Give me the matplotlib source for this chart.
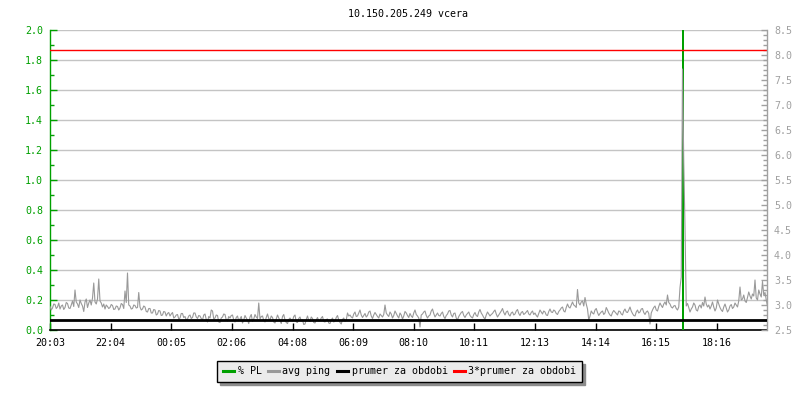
import matplotlib
matplotlib.use('Agg')
import matplotlib.pyplot as plt
from matplotlib.ticker import MultipleLocator, FormatStrFormatter
from matplotlib.lines import Line2D

title = "10.150.205.249 vcera"
step_min = 2.5  # minutes between samples
start_label = "20:03"
span_min = 1434

# avg ping (right axis), one value every 2.5 minutes from 20:03 (one row = 1 hour)
ping = [
    2.97, 2.90, 2.94, 3.02, 3.01, 2.93, 2.96, 3.04, 2.92, 2.98, 3.00, 2.91, 2.95, 3.05, 3.03, 2.94, 2.93, 3.00, 3.08, 2.97, 3.30, 3.06, 3.02, 2.95,
    3.10, 3.03, 2.98, 2.87, 3.06, 3.12, 2.95, 3.04, 3.10, 3.00, 3.14, 3.44, 3.06, 3.02, 3.12, 3.52, 3.08, 3.04, 2.96, 3.02, 2.92, 3.00, 2.97, 2.93,
    2.95, 3.01, 2.99, 2.91, 2.92, 2.98, 2.97, 2.90, 2.94, 3.03, 3.01, 2.93, 3.28, 3.05, 3.64, 3.00, 2.98, 2.92, 2.93, 3.00, 2.99, 2.94, 2.95, 3.25,
    2.96, 2.90, 2.92, 2.98, 2.96, 2.87, 2.86, 2.93, 2.93, 2.84, 2.84, 2.91, 2.90, 2.80, 2.82, 2.89, 2.88, 2.79, 2.80, 2.87, 2.86, 2.78, 2.83, 2.85,
    2.78, 2.82, 2.85, 2.74, 2.76, 2.80, 2.81, 2.72, 2.74, 2.83, 2.83, 2.75, 2.77, 2.70, 2.72, 2.78, 2.80, 2.73, 2.75, 2.84, 2.84, 2.76, 2.73, 2.79,
    2.78, 2.73, 2.70, 2.80, 2.82, 2.71, 2.66, 2.77, 2.74, 2.90, 2.88, 2.72, 2.74, 2.80, 2.79, 2.66, 2.65, 2.74, 2.76, 2.82, 2.81, 2.70, 2.68, 2.77,
    2.74, 2.79, 2.80, 2.70, 2.66, 2.75, 2.78, 2.68, 2.72, 2.77, 2.64, 2.70, 2.79, 2.74, 2.70, 2.63, 2.76, 2.81, 2.67, 2.72, 2.81, 2.76, 2.73, 3.04,
    2.72, 2.77, 2.78, 2.69, 2.66, 2.75, 2.82, 2.73, 2.70, 2.78, 2.75, 2.66, 2.64, 2.72, 2.80, 2.74, 2.69, 2.63, 2.77, 2.81, 2.70, 2.65, 2.63, 2.71,
    2.74, 2.70, 2.68, 2.77, 2.80, 2.66, 2.65, 2.73, 2.76, 2.68, 2.70, 2.61, 2.62, 2.71, 2.78, 2.69, 2.67, 2.76, 2.73, 2.65, 2.64, 2.70, 2.75, 2.68,
    2.69, 2.74, 2.77, 2.67, 2.66, 2.71, 2.72, 2.64, 2.63, 2.70, 2.74, 2.66, 2.68, 2.75, 2.79, 2.70, 2.65, 2.62, 2.71, 2.74, 2.67, 2.70, 2.84, 2.78,
    2.80, 2.76, 2.74, 2.82, 2.86, 2.77, 2.78, 2.84, 2.90, 2.80, 2.75, 2.79, 2.83, 2.76, 2.79, 2.86, 2.88, 2.78, 2.73, 2.80, 2.85, 2.81, 2.77, 2.74,
    2.82, 2.79, 2.76, 2.81, 3.00, 2.84, 2.80, 2.77, 2.86, 2.82, 2.74, 2.79, 2.88, 2.83, 2.78, 2.74, 2.84, 2.80, 2.72, 2.78, 2.87, 2.84, 2.79, 2.75,
    2.83, 2.78, 2.75, 2.84, 2.90, 2.81, 2.78, 2.74, 2.56, 2.80, 2.82, 2.86, 2.88, 2.79, 2.74, 2.78, 2.80, 2.88, 2.92, 2.83, 2.76, 2.80, 2.84, 2.79,
    2.78, 2.83, 2.86, 2.77, 2.73, 2.79, 2.82, 2.88, 2.89, 2.80, 2.76, 2.83, 2.84, 2.74, 2.70, 2.77, 2.81, 2.85, 2.87, 2.79, 2.75, 2.80, 2.83, 2.86,
    2.79, 2.76, 2.74, 2.81, 2.85, 2.79, 2.77, 2.86, 2.91, 2.84, 2.80, 2.75, 2.72, 2.80, 2.86, 2.82, 2.78, 2.81, 2.83, 2.87, 2.90, 2.82, 2.76, 2.80,
    2.84, 2.88, 2.93, 2.85, 2.80, 2.86, 2.88, 2.81, 2.78, 2.84, 2.86, 2.80, 2.82, 2.88, 2.91, 2.83, 2.79, 2.85, 2.87, 2.81, 2.83, 2.86, 2.89, 2.82,
    2.80, 2.85, 2.88, 2.81, 2.84, 2.79, 2.76, 2.83, 2.90, 2.86, 2.82, 2.88, 2.86, 2.80, 2.79, 2.87, 2.92, 2.86, 2.85, 2.90, 2.88, 2.83, 2.81, 2.87,
    2.90, 2.94, 2.96, 2.88, 2.86, 2.95, 3.02, 2.96, 2.94, 3.00, 3.06, 3.00, 2.98, 2.95, 3.31, 3.04, 3.00, 3.06, 3.08, 2.98, 3.15, 3.02, 2.92, 2.70,
    2.78, 2.88, 2.84, 2.82, 2.90, 2.93, 2.85, 2.79, 2.83, 2.86, 2.88, 2.81, 2.84, 2.95, 2.90, 2.84, 2.80, 2.78, 2.85, 2.89, 2.86, 2.83, 2.80, 2.88,
    2.87, 2.82, 2.80, 2.88, 2.92, 2.86, 2.85, 2.90, 2.96, 2.88, 2.83, 2.79, 2.78, 2.86, 2.90, 2.84, 2.86, 2.92, 2.93, 2.85, 2.81, 2.86, 2.88, 2.83,
    2.62, 2.84, 2.90, 2.95, 2.98, 2.90, 2.88, 2.97, 3.04, 2.99, 2.95, 3.02, 3.06, 3.00, 3.20, 3.05, 3.02, 2.96, 2.94, 2.98, 2.99, 2.93, 2.90, 2.96,
    3.35, 3.56, 7.72, 5.86, 4.55, 2.98, 3.03, 2.95, 2.86, 2.92, 2.96, 3.04, 3.00, 2.90, 2.88, 2.97, 3.00, 2.94, 3.05, 2.98, 3.16, 3.02, 2.96, 3.00,
    2.92, 2.98, 3.06, 2.96, 2.88, 2.94, 3.10, 3.02, 2.95, 2.90, 2.87, 2.96, 3.02, 2.94, 2.86, 2.90, 2.98, 3.01, 2.93, 2.96, 3.04, 3.00, 2.96, 3.08,
    3.36, 3.10, 3.12, 3.20, 3.08, 3.05, 3.15, 3.26, 3.18, 3.12, 3.22, 3.18, 3.50, 3.14, 3.10, 3.30, 3.22, 3.16, 3.47, 3.20, 3.25, 3.10, 2.98,
]

# % packet loss (left axis): sample index and value
pl_index = [506]
pl_value = [2.6]

prumer = 2.7          # average over period (right axis)
prumer3 = 8.1         # 3 * average

tick_labels = ["20:03", "22:04", "00:05", "02:06", "04:08", "06:09",
               "08:10", "10:11", "12:13", "14:14", "16:15", "18:16"]

legend_labels = ["% PL", "avg ping", "prumer za obdobi", "3*prumer za obdobi"]

GREEN = '#00a000'
GRAY = '#999999'
LGRAY = '#a0a0a0'
GRID = '#c4c4c4'

plt.rcParams['font.family'] = ['DejaVu Sans Mono']
plt.rcParams['font.size'] = 7.2


def to_min(s):
    h, m = map(int, s.split(':'))
    h0, m0 = map(int, start_label.split(':'))
    return (h * 60 + m - (h0 * 60 + m0)) % 1440


fig = plt.figure(figsize=(8, 4), dpi=100)
ax = fig.add_axes([50 / 800, 70 / 400, 717 / 800, 300 / 400])
ax2 = ax.twinx()

t = [i * step_min for i in range(len(ping))]
pl_t = [i * step_min for i in pl_index]

# left axis
ax.set_xlim(0, span_min)
ax.set_ylim(0, 2.0)
ax.yaxis.set_major_locator(MultipleLocator(0.2))
ax.yaxis.set_minor_locator(MultipleLocator(0.1))
ax.yaxis.set_major_formatter(FormatStrFormatter('%.1f'))
ax.grid(axis='y', which='major', color=GRID, linewidth=1.0, zorder=0)
ax.set_axisbelow(True)
ax.tick_params(axis='y', which='major', direction='in', length=5, width=1,
               colors=GREEN, labelcolor=GREEN, pad=5)
ax.tick_params(axis='y', which='minor', direction='in', length=3, width=1,
               colors=GREEN)
ax.spines['left'].set_color(GREEN)
ax.spines['left'].set_linewidth(1.0)
ax.spines['top'].set_visible(False)
ax.spines['right'].set_visible(False)
ax.spines['bottom'].set_color('black')
ax.spines['bottom'].set_linewidth(1.2)

ax.set_xticks([to_min(s) for s in tick_labels])
ax.set_xticklabels(tick_labels)
ax.tick_params(axis='x', direction='in', length=5, width=1, colors='black',
               pad=6)

ax.vlines(pl_t, 0, pl_value, color=GREEN, linewidth=1.44, zorder=3)

# right axis
ax2.set_ylim(2.5, 8.5)
ax2.yaxis.set_major_locator(MultipleLocator(0.5))
ax2.yaxis.set_minor_locator(MultipleLocator(0.1))
ax2.yaxis.set_major_formatter(FormatStrFormatter('%.1f'))
ax2.tick_params(axis='y', which='major', direction='in', length=4, width=1,
                colors=LGRAY, labelcolor=LGRAY, pad=5)
ax2.tick_params(axis='y', which='minor', direction='in', length=3, width=1,
                colors=LGRAY)
for s in ['left', 'top', 'bottom']:
    ax2.spines[s].set_visible(False)
ax2.spines['right'].set_color(LGRAY)
ax2.spines['right'].set_linewidth(1.0)

ax2.plot(t, ping, color=GRAY, linewidth=0.8, zorder=4)
ax2.axhline(prumer, color='black', linewidth=2.0, zorder=5)
ax2.axhline(prumer3, color='#ff0000', linewidth=1.0, zorder=2)
ax2.set_xlim(0, span_min)

fig.text(408.5 / 800, 1 - 14 / 400, title, ha='center', va='center',
         fontsize=7.2)

handles = [Line2D([], [], color=c, linewidth=2.2)
           for c in [GREEN, GRAY, 'black', '#ff0000']]
leg = fig.legend(handles, legend_labels, loc='center',
                 bbox_to_anchor=(399.5 / 800, 29 / 400), ncol=4,
                 frameon=True, fancybox=False, edgecolor='black',
                 facecolor='#ebebeb', framealpha=1,
                 handlelength=1.1, handletextpad=0.4, columnspacing=0.6,
                 borderpad=0.55, borderaxespad=0,
                 shadow={'color': '#8c8c8c', 'alpha': 1, 'ox': 2.5, 'oy': -2.5})
leg.get_frame().set_linewidth(1.0)

fig.savefig('out.png', dpi=100)
